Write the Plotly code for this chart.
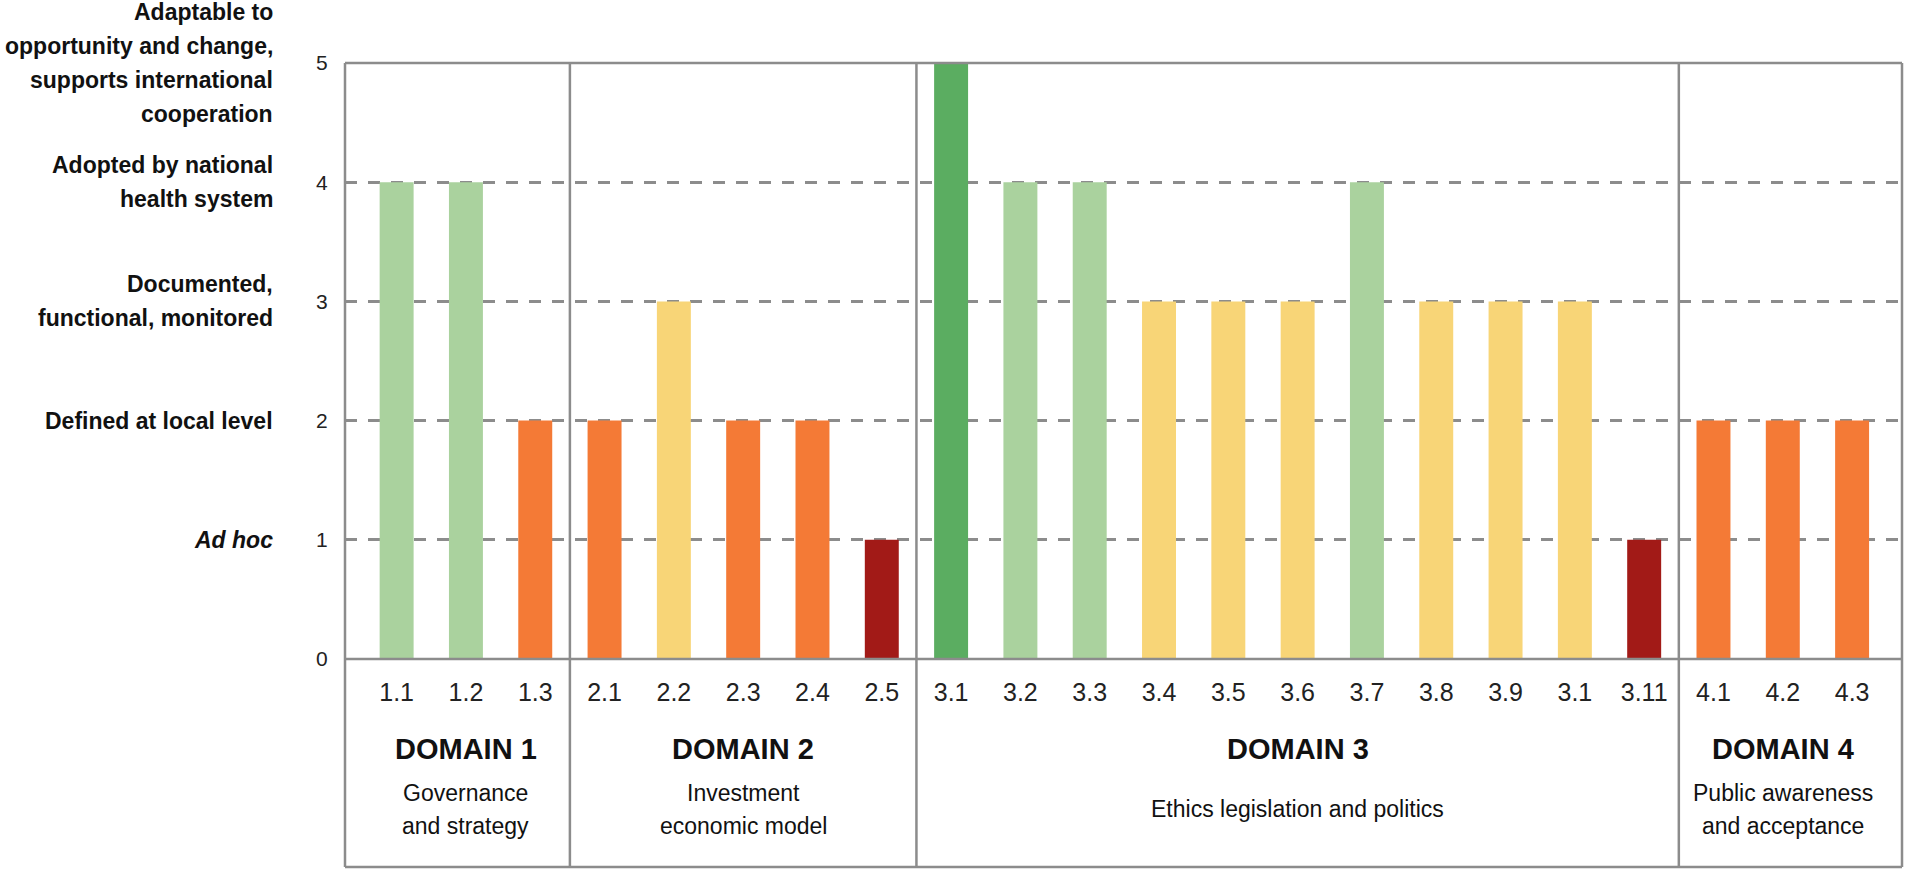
import plotly.graph_objects as go

# indicator codes (labels as printed, "3.1" appears twice in the source)
indicator_labels = ["1.1", "1.2", "1.3",
                    "2.1", "2.2", "2.3", "2.4", "2.5",
                    "3.1", "3.2", "3.3", "3.4", "3.5", "3.6", "3.7", "3.8", "3.9", "3.1", "3.11",
                    "4.1", "4.2", "4.3"]
maturity_scores = [4, 4, 2,
                   2, 3, 2, 2, 1,
                   5, 4, 4, 3, 3, 3, 4, 3, 3, 3, 1,
                   2, 2, 2]

domain_sizes = [3, 5, 11, 3]
domain_titles = ["DOMAIN 1", "DOMAIN 2", "DOMAIN 3", "DOMAIN 4"]
domain_subtitles = [["Governance", "and strategy"],
                    ["Investment", "economic model"],
                    ["Ethics legislation and politics"],
                    ["Public awareness", "and acceptance"]]

level_values = [1, 2, 3, 4, 5]
level_labels = [["<i>Ad hoc</i>"],
                ["Defined at local level"],
                ["Documented,", "functional, monitored"],
                ["Adopted by national", "health system"],
                ["Adaptable to", "opportunity and change,", "supports international", "cooperation"]]

level_colors = {1: "#A21A17", 2: "#F47A36", 3: "#F8D577", 4: "#AAD29E", 5: "#5BAD61"}

FONT = "Liberation Sans, Arial, sans-serif"
LINE = "#8C8C8C"

W, H = 1908, 873
ML, MR, MT = 345, 6, 63
plot_h = 596
MB = H - MT - plot_h
bottom = -208 / plot_h  # bottom edge of the domain boxes, paper units


def py(px_below_axis):
    # pixels below the x axis -> paper y
    return -px_below_axis / plot_h


positions = list(range(len(indicator_labels)))

fig = go.Figure(go.Bar(
    x=positions,
    y=maturity_scores,
    width=0.49,
    marker=dict(color=[level_colors[s] for s in maturity_scores], line=dict(width=0)),
    hoverinfo="skip",
))

shapes = []
line_style = dict(color=LINE, width=2.5)
# outer frame and x-axis line
for y in (1, 0, bottom):
    shapes.append(dict(type="line", xref="paper", yref="paper", x0=0, x1=1, y0=y, y1=y,
                       line=line_style, layer="above"))
for x in (0, 1):
    shapes.append(dict(type="line", xref="paper", yref="paper", x0=x, x1=x, y0=bottom, y1=1,
                       line=line_style, layer="above"))

annotations = []
start = 0
for size, title, sub in zip(domain_sizes, domain_titles, domain_subtitles):
    end = start + size
    centre = (start + end - 1) / 2
    if end < len(positions):
        shapes.append(dict(type="line", xref="x", yref="paper", x0=end - 0.5, x1=end - 0.5,
                           y0=bottom, y1=1, line=line_style, layer="above"))
    annotations.append(dict(x=centre, xref="x", y=py(90), yref="paper", text=f"<b>{title}</b>",
                            showarrow=False, yanchor="middle",
                            font=dict(family=FONT, size=29, color="#111")))
    n = len(sub)
    for i, line in enumerate(sub):
        offset = 150 + (i - (n - 1) / 2) * 33
        annotations.append(dict(x=centre, xref="x", y=py(offset), yref="paper", text=line,
                                showarrow=False, yanchor="middle",
                                font=dict(family=FONT, size=23, color="#111")))
    start = end

for val, lines in zip(level_values, level_labels):
    n = len(lines)
    for i, line in enumerate(lines):
        annotations.append(dict(x=-70 / (W - ML - MR), xref="paper", y=val, yref="y",
                                yshift=((n - 1) / 2 - i) * 34,
                                text=f"<b>{line}</b>", showarrow=False,
                                xanchor="right", yanchor="middle", align="right",
                                font=dict(family=FONT, size=23, color="#111")))

fig.update_layout(
    width=W, height=H,
    margin=dict(l=ML, r=MR, t=MT, b=MB, autoexpand=False),
    paper_bgcolor="white", plot_bgcolor="white",
    showlegend=False,
    font=dict(family=FONT, color="#222"),
    shapes=shapes,
    annotations=annotations,
    xaxis=dict(
        range=[-0.745, 21.72],
        tickvals=positions, ticktext=indicator_labels,
        showgrid=False, zeroline=False, showline=False,
        ticks="outside", ticklen=11, tickcolor="rgba(0,0,0,0)",
        tickfont=dict(family=FONT, size=25, color="#222"),
        fixedrange=True,
    ),
    yaxis=dict(
        range=[0, 5],
        tickvals=[0, 1, 2, 3, 4, 5],
        showgrid=True, gridcolor=LINE, gridwidth=2.5, griddash="12px,11px",
        zeroline=False, showline=False,
        ticks="outside", ticklen=12, tickcolor="rgba(0,0,0,0)",
        tickfont=dict(family=FONT, size=21, color="#222"),
        fixedrange=True,
    ),
)

# drop the browser's default 8px body margin so the figure fills the window exactly
fig.write_html("out.html", config={"displayModeBar": False},
               post_script="document.body.style.margin = '0';")
